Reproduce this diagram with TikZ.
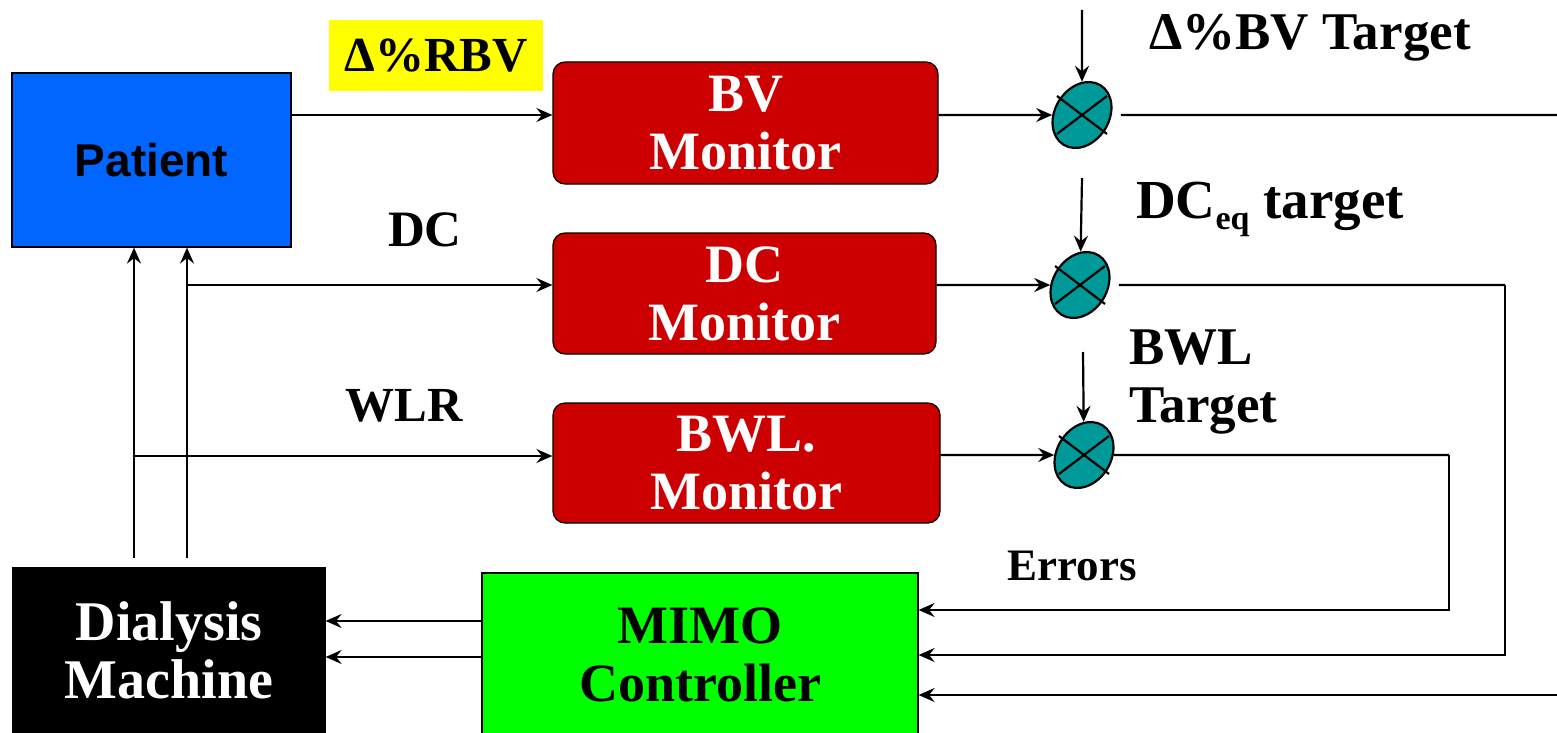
\documentclass[tikz,border=0pt]{standalone}
\usepackage{fontspec}
\setmainfont{Liberation Serif}
\newfontfamily\patientfont{Liberation Sans}
\usetikzlibrary{arrows.meta,shapes.geometric}

\definecolor{patblue}{RGB}{0,102,255}
\definecolor{monred}{RGB}{204,0,0}
\definecolor{ctrlgreen}{RGB}{0,255,0}
\definecolor{sumteal}{RGB}{0,153,153}
\definecolor{tagyellow}{RGB}{255,255,0}

\newcommand{\boxfont}{\bfseries\fontsize{54}{58}\selectfont}
\newcommand{\lblfont}{\bfseries\fontsize{51}{58}\selectfont}

\begin{document}
\begin{tikzpicture}[x=1pt,y=-1pt, line width=2.2pt,
  >={Stealth[length=16pt,width=14pt,inset=5.5pt]},
  monitor/.style={draw=black, line width=1.2pt, fill=monred, rounded corners=12pt,
    text=white, font=\boxfont, align=center, inner sep=0pt},
  blockbox/.style={draw=black, line width=1.2pt, align=center, inner sep=0pt, font=\boxfont},
  junction/.style={ellipse, draw=black, line width=2.2pt, fill=sumteal,
    minimum width=70pt, minimum height=54pt, rotate=58, inner sep=0pt},
  lbl/.style={font=\lblfont, inner sep=0pt}
]
\useasboundingbox (0,0) rectangle (1557,733);

% blocks
\node[blockbox, fill=patblue, minimum width=279pt, minimum height=174pt,
  font=\patientfont\bfseries\fontsize{46}{50}\selectfont] (patient) at (151.5,160) {Patient};
\node[inner sep=0pt, fill=tagyellow, minimum width=214pt, minimum height=71pt,
  font=\bfseries\fontsize{49}{55}\selectfont] (rbv) at (436,55.5) {Δ\%RBV};
\node[monitor, minimum width=385pt, minimum height=122pt] (bvmon) at (745.5,123) {BV\\Monitor};
\node[monitor, minimum width=383pt, minimum height=121pt] (dcmon) at (744.5,293.5) {DC\\Monitor};
\node[monitor, minimum width=387pt, minimum height=120pt] (bwlmon) at (746.5,463) {BWL.\\Monitor};
\node[blockbox, fill=black, text=white, minimum width=312pt, minimum height=165pt,
  font=\bfseries\fontsize{56}{58}\selectfont] (dialysis) at (169,650.5) {Dialysis\\Machine};
\node[blockbox, fill=ctrlgreen, minimum width=436pt, minimum height=163pt] (mimo) at (700,654.5) {MIMO\\Controller};

% summing junctions
\node[junction] (j1) at (1082,115) {};
\node[junction] (j2) at (1080,285) {};
\node[junction] (j3) at (1084,455) {};
\foreach \j in {j1,j2,j3}{
  \draw (\j.center) ++(-25,-19) -- ++(50,38);
  \draw (\j.center) ++(-25,19) -- ++(50,-38);
}

% labels
\node[lbl, anchor=base] (lbldc) at (425,246) {DC};
\node[lbl, anchor=base, font=\bfseries\fontsize{49}{55}\selectfont] (lblwlr) at (404,421) {WLR};
\node[lbl, anchor=base, font=\bfseries\fontsize{53}{58}\selectfont] (lblbv) at (1310,50) {Δ\%BV Target};
\node[lbl, anchor=base west, font=\bfseries\fontsize{55}{58}\selectfont] (lbldceq) at (1135,218)
  {DC\raisebox{-11pt}{\fontsize{34}{34}\selectfont eq} target};
\node[lbl, anchor=north west, align=left, font=\bfseries\fontsize{53}{58}\selectfont] (lblbwl) at (1128,329) {BWL\\Target};
\node[lbl, anchor=base, font=\bfseries\fontsize{45}{50}\selectfont] (lblerr) at (1072,580) {Errors};

% reference inputs
\coordinate (t1) at (1082,10);
\coordinate (t2) at (1082,178);
\coordinate (t3) at (1083,352);
\draw[->] (t1) -- (j1);
\draw[->] (t2) -- (j2);
\draw[->] (t3) -- (j3);

% patient to monitors, monitors to junctions
\draw[->] (patient.east |- j1) -- (bvmon.west |- j1);
\draw[->] (bvmon.east |- j1) -- (j1);
\draw[->] (dcmon.east |- j2) -- (j2);
\draw[->] (bwlmon.east |- j3) -- (j3);

\coordinate (dcsplit) at (187,285);
\coordinate (wsplit) at (134,456);
\coordinate (u1) at (134,558);
\coordinate (u2) at (187,558);
\draw[->] (dcsplit) -- (dcmon.west |- dcsplit);
\draw[->] (wsplit) -- (bwlmon.west |- wsplit);
\draw[->] (u1) -- (u1 |- patient.south);
\draw[->] (u2) -- (u2 |- patient.south);

% controller to dialysis machine
\coordinate (dm1) at (400,621);
\coordinate (dm2) at (400,657);
\draw[->] (mimo.west |- dm1) -- (dialysis.east |- dm1);
\draw[->] (mimo.west |- dm2) -- (dialysis.east |- dm2);

% error feedback
\coordinate (r1) at (1557,115);
\coordinate (e2) at (1505,655);
\coordinate (e3) at (1449,610);
\coordinate (r3) at (1557,695);
\draw[shorten <=9pt] (j1) -- (r1);
\draw[shorten <=9pt] (j2) -- (j2 -| e2);
\draw[->] (j2 -| e2) -- (e2) -- (e2 -| mimo.east);
\draw (j3) -- (j3 -| e3);
\draw[->] (j3 -| e3) -- (e3) -- (e3 -| mimo.east);
\draw[->] (r3) -- (r3 -| mimo.east);
\end{tikzpicture}
\end{document}
